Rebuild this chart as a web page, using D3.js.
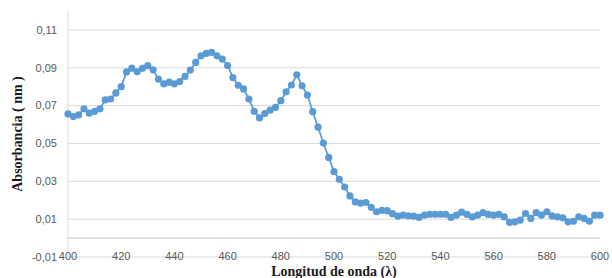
<!doctype html>
<html>
    <head>
        <title>Absorbancia</title>
        <style>
	html, body {
		margin: 0;
		padding: 0;
		background: #ffffff;
	}
	svg {
		display: block;
	}
	.tick-label {
		font-family: "Liberation Sans", Arial, sans-serif;
		font-size: 11px;
		fill: #595959;
	}
	.title {
		font-family: "Liberation Serif", "Times New Roman", serif;
		font-weight: bold;
		font-size: 14px;
		fill: #1a1a1a;
	}
        </style>
	<script src="https://cdnjs.cloudflare.com/ajax/libs/d3/7.8.5/d3.min.js"></script>
    </head>
    <body>
	<script>
	// longitud de onda (nm), every 2 nm
	var wavelengths = [
		400, 402, 404, 406, 408, 410, 412, 414, 416, 418,
		420, 422, 424, 426, 428, 430, 432, 434, 436, 438,
		440, 442, 444, 446, 448, 450, 452, 454, 456, 458,
		460, 462, 464, 466, 468, 470, 472, 474, 476, 478,
		480, 482, 484, 486, 488, 490, 492, 494, 496, 498,
		500, 502, 504, 506, 508, 510, 512, 514, 516, 518,
		520, 522, 524, 526, 528, 530, 532, 534, 536, 538,
		540, 542, 544, 546, 548, 550, 552, 554, 556, 558,
		560, 562, 564, 566, 568, 570, 572, 574, 576, 578,
		580, 582, 584, 586, 588, 590, 592, 594, 596, 598,
		600];

	// absorbancia
	var absorbance = [
		0.0656, 0.0642, 0.0651, 0.0683, 0.0660, 0.0670, 0.0683, 0.0730, 0.0735, 0.0767,
		0.0800, 0.0878, 0.0898, 0.0879, 0.0897, 0.0911, 0.0889, 0.0840, 0.0815, 0.0824,
		0.0815, 0.0827, 0.0854, 0.0888, 0.0928, 0.0963, 0.0976, 0.0981, 0.0963, 0.0946,
		0.0912, 0.0848, 0.0807, 0.0788, 0.0735, 0.0670, 0.0635, 0.0658, 0.0676, 0.0691,
		0.0726, 0.0773, 0.0809, 0.0863, 0.0805, 0.0756, 0.0668, 0.0586, 0.0502, 0.0426,
		0.0351, 0.0311, 0.0270, 0.0223, 0.0191, 0.0185, 0.0188, 0.0163, 0.0139, 0.0147,
		0.0145, 0.0129, 0.0116, 0.0121, 0.0118, 0.0116, 0.0109, 0.0121, 0.0126, 0.0126,
		0.0126, 0.0126, 0.0109, 0.0121, 0.0137, 0.0125, 0.0112, 0.0121, 0.0135, 0.0125,
		0.0121, 0.0125, 0.0112, 0.0083, 0.0086, 0.0095, 0.0130, 0.0104, 0.0135, 0.0121,
		0.0139, 0.0117, 0.0112, 0.0107, 0.0086, 0.0089, 0.0112, 0.0104, 0.0089, 0.0121,
		0.0121];

	var xTicks = [400, 420, 440, 460, 480, 500, 520, 540, 560, 580, 600];
	var yTicks = [-0.01, 0.01, 0.03, 0.05, 0.07, 0.09, 0.11];

	var width = 612,
		height = 278;
	var margin = {top: 11, right: 12, bottom: 21, left: 68};

	var svg = d3.select("body").append("svg")
		.attr("width", width)
		.attr("height", height);

	var x = d3.scaleLinear()
		.domain([400, 600])
		.range([margin.left, width - margin.right]);

	var y = d3.scaleLinear()
		.domain([-0.01, 0.12])
		.range([height - margin.bottom, margin.top]);

	var fmt = function (v) { return d3.format(".2f")(v).replace(".", ",").replace("−", "-"); };

	// horizontal gridlines
	svg.append("g").selectAll("line")
		.data(yTicks).enter()
		.append("line")
		.attr("x1", x(400))
		.attr("x2", x(600))
		.attr("y1", function (d) { return y(d); })
		.attr("y2", function (d) { return y(d); })
		.attr("stroke", "#d9d9d9")
		.attr("stroke-width", 1);

	// vertical axis line
	svg.append("line")
		.attr("x1", x(400)).attr("x2", x(400))
		.attr("y1", y(0.12)).attr("y2", y(-0.01))
		.attr("stroke", "#d9d9d9");

	// horizontal axis at zero
	svg.append("line")
		.attr("x1", x(400)).attr("x2", x(600))
		.attr("y1", y(0)).attr("y2", y(0))
		.attr("stroke", "#bfbfbf");

	// y tick labels
	svg.append("g").selectAll("text")
		.data(yTicks).enter()
		.append("text")
		.attr("class", "tick-label")
		.attr("x", margin.left - 11)
		.attr("y", function (d) { return y(d); })
		.attr("dy", "0.35em")
		.attr("text-anchor", "end")
		.text(fmt);

	// x tick labels
	svg.append("g").selectAll("text")
		.data(xTicks).enter()
		.append("text")
		.attr("class", "tick-label")
		.attr("x", function (d) { return x(d); })
		.attr("y", y(-0.01) - 1)
		.attr("dy", "0.35em")
		.attr("text-anchor", "middle")
		.text(function (d) { return d; });

	var points = wavelengths.map(function (w, i) { return {w: w, a: absorbance[i]}; });

	var line = d3.line()
		.x(function (d) { return x(d.w); })
		.y(function (d) { return y(d.a); });

	svg.append("path")
		.datum(points)
		.attr("d", line)
		.attr("fill", "none")
		.attr("stroke", "#5b9bd5")
		.attr("stroke-width", 1.75);

	svg.append("g").selectAll("circle")
		.data(points).enter()
		.append("circle")
		.attr("cx", function (d) { return x(d.w); })
		.attr("cy", function (d) { return y(d.a); })
		.attr("r", 3.6)
		.attr("fill", "#5b9bd5");

	// axis titles
	svg.append("text")
		.attr("class", "title")
		.attr("transform", "translate(22," + 134 + ") rotate(-90)")
		.attr("text-anchor", "middle")
		.text("Absorbancia ( nm )");

	svg.append("text")
		.attr("class", "title")
		.attr("x", (x(400) + x(600)) / 2)
		.attr("y", 276)
		.attr("text-anchor", "middle")
		.text("Longitud de onda (λ)");
	</script>
    </body>
</html>
